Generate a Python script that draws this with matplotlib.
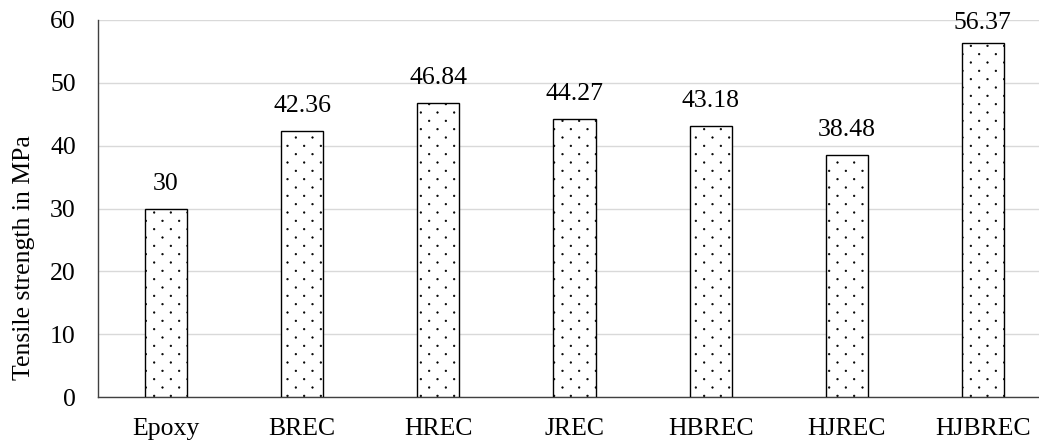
import matplotlib
matplotlib.use("Agg")
import numpy as np
import matplotlib.pyplot as plt
from matplotlib import hatch as mhatch
from matplotlib.path import Path

# Tensile strength of the neat epoxy and the fibre-reinforced composites
categories = ["Epoxy", "BREC", "HREC", "JREC", "HBREC", "HJREC", "HJBREC"]
strength = [30, 42.36, 46.84, 44.27, 43.18, 38.48, 56.37]
value_labels = ["30", "42.36", "46.84", "44.27", "43.18", "38.48", "56.37"]
yticks = [0, 10, 20, 30, 40, 50, 60]


class SparseDots(mhatch.HatchPatternBase):
    """Small filled dots in staggered rows: 12 rows and 6 columns per inch."""

    def __init__(self, hatch, density):
        circle = Path.unit_circle()
        self.circle_vertices = circle.vertices * 0.0075
        self.circle_codes = circle.codes
        self.rows = 12 if "." in hatch else 0
        self.cols = 6
        self.num_vertices = self.rows * self.cols * len(self.circle_vertices)

    def set_vertices_and_codes(self, vertices, codes):
        n = len(self.circle_vertices)
        k = 0
        for r in range(self.rows):
            y = (r + 0.5) / self.rows
            shift = 0.5 * (r % 2)
            for c in range(self.cols):
                x = (c + 0.25 + shift) / self.cols
                vertices[k:k + n] = self.circle_vertices + (x, y)
                codes[k:k + n] = self.circle_codes
                k += n


mhatch._hatch_types = [t for t in mhatch._hatch_types
                       if t is not mhatch.SmallFilledCircles] + [SparseDots]

plt.rcParams["font.family"] = ["Liberation Serif", "DejaVu Serif"]
plt.rcParams["hatch.linewidth"] = 0.5
plt.rcParams["hatch.color"] = "black"

FS = 18.5
W, H = 1039, 443
fig = plt.figure(figsize=(W / 100, H / 100), dpi=100)
# axes box in pixels: left 98, right 1051 (runs past the right edge), bottom 397, top 20
ax = fig.add_axes([98 / W, (H - 397) / H, (1051 - 98) / W, (397 - 20) / H])

x = np.arange(len(categories))
ax.bar(x, strength, width=0.31, color="white", edgecolor="black",
       linewidth=1.0, hatch=".", zorder=3)

labels = []
for xi, v, lab in zip(x, strength, value_labels):
    labels.append(ax.annotate(lab, (xi, v), xytext=(0, 10), textcoords="offset points",
                              ha="center", va="bottom", fontsize=FS))

ax.set_xlim(-0.5, len(categories) - 0.5)
ax.set_ylim(0, 60)
ax.set_yticks(yticks)
ax.set_xticks(x)
ax.set_xticklabels(categories)
ax.tick_params(axis="both", length=0, labelsize=FS)
ax.tick_params(axis="x", pad=15)
ax.tick_params(axis="y", pad=16)

ax.yaxis.grid(True, color="#d9d9d9", linewidth=1.0, zorder=0)
ax.set_axisbelow(True)
for s in ("top", "right"):
    ax.spines[s].set_visible(False)
for s in ("left", "bottom"):
    ax.spines[s].set_color("#404040")
    ax.spines[s].set_linewidth(1.0)

ax.set_ylabel("Tensile strength in MPa", fontsize=FS)
ax.yaxis.set_label_coords(-0.066, 0.37)

# keep value labels inside the chart area: push down any that would run off the top
fig.canvas.draw()
renderer = fig.canvas.get_renderer()
top_limit = H - 12  # display pixels from the bottom
for ann in labels:
    bb = ann.get_window_extent(renderer)
    if bb.y1 > top_limit:
        dx, dy = ann.xyann
        ann.xyann = (dx, dy - (bb.y1 - top_limit) * 72 / fig.dpi)

fig.savefig("out.png", dpi=100)
